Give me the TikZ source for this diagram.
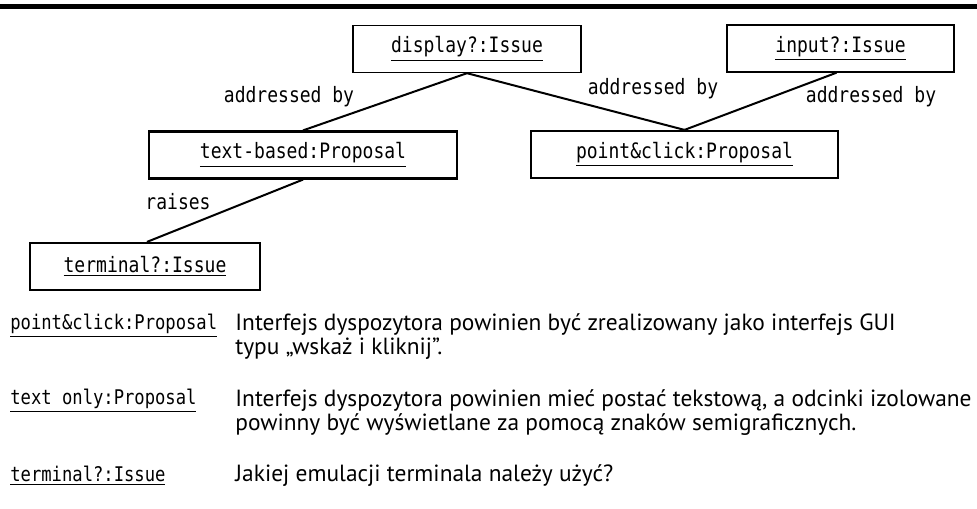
\documentclass[tikz,border=0pt]{standalone}
\usepackage{fontspec}
\setmainfont{PT Sans}
\newfontfamily\umlfont[FakeStretch=0.85]{DejaVu Sans Mono}
\usetikzlibrary{arrows.meta}

\begin{document}
\begin{tikzpicture}[x=0.5pt, y=-0.5pt,
  obj/.style={draw, line width=1.1pt, inner sep=0pt, minimum height=23.5pt,
    font=\umlfont\fontsize{10.6}{12}\selectfont},
  lbl/.style={inner sep=0pt, font=\umlfont\fontsize{10.6}{12}\selectfont},
  conn/.style={line width=1pt},
  term/.style={anchor=west, inner sep=0pt, font=\umlfont\fontsize{10.1}{12}\selectfont},
  desc/.style={anchor=west, inner sep=0pt, align=left,
    font=\fontsize{11.7}{12}\selectfont}]
  \useasboundingbox (0,0) rectangle (977,508);
  % Rule
  \draw[line width=2.5pt] (0,6.5) -- (977,6.5);
  % Objects
  \node[obj, line width=0.7pt, minimum width=114pt] (display) at (467,49) {\underline{display?:Issue}};
  \node[obj, line width=0.7pt, minimum width=113.5pt] (input) at (840.5,48.5) {\underline{input?:Issue}};
  \node[obj, minimum width=154pt] (textbased) at (303,155) {\underline{text-based:Proposal}};
  \node[obj, minimum width=153.5pt] (pointclick) at (684.5,154.5) {\underline{point\&click:Proposal}};
  \node[obj, minimum width=115pt] (terminal) at (145,266.5) {\underline{terminal?:Issue}};
  % Links
  \draw[conn] (display.south) -- (textbased.north);
  \draw[conn] (display.south) -- (pointclick.north);
  \draw[conn] ([xshift=-2pt]input.south) -- (pointclick.north);
  \draw[conn] (textbased.south) -- ([xshift=1pt]terminal.north);
  % Labels
  \node[lbl] (lbladdr1) at (289,97) {addressed by};
  \node[lbl] (lbladdr2) at (653,89) {addressed by};
  \node[lbl] (lbladdr3) at (871,97) {addressed by};
  \node[lbl] (lblraises) at (178,202) {raises};
  % Legend
  \node[term] (key1) at (10,326) {\underline{point\&click:Proposal}};
  \node[desc] (txt1) at (235,337) {Interfejs dyspozytora powinien być zrealizowany jako interfejs GUI\\typu „wskaż i kliknij”.};
  \node[term] (key2) at (10,401) {\underline{text only:Proposal}};
  \node[desc] (txt2) at (235,413) {Interfejs dyspozytora powinien mieć postać tekstową, a odcinki izolowane\\powinny być wyświetlane za pomocą znaków semigraficznych.};
  \node[term] (key3) at (10,476) {\underline{terminal?:Issue}};
  \node[desc] (txt3) at (235,476) {Jakiej emulacji terminala należy użyć?};
\end{tikzpicture}
\end{document}
